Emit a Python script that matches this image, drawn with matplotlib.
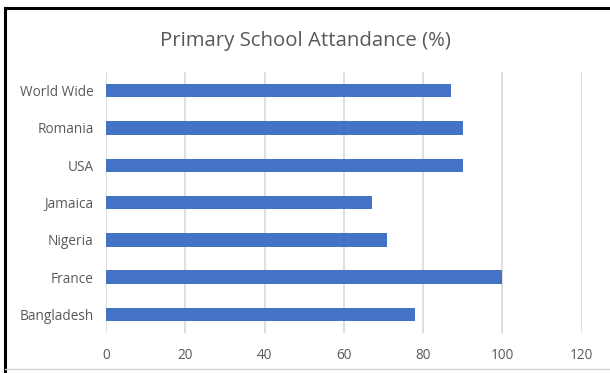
import matplotlib.pyplot as plt
from matplotlib.lines import Line2D

countries = ["World Wide", "Romania", "USA", "Jamaica", "Nigeria", "France", "Bangladesh"]
attendance = [87, 90, 90, 67, 71, 100, 78]
xticks = [0, 20, 40, 60, 80, 100, 120]

plt.rcParams['font.family'] = ['Open Sans', 'DejaVu Sans']

fig = plt.figure(figsize=(6.1, 3.73), dpi=100)
ax = fig.add_axes([0.1738, 0.1072, 0.7796, 0.6998])

pos = list(range(len(countries)))[::-1]
ax.barh(pos, attendance, height=0.36, color='#4472C4', zorder=3)

ax.set_xlim(0, 120)
ax.set_ylim(-0.5, len(countries) - 0.5)
ax.set_xticks(xticks)
ax.set_yticks(pos)
ax.set_yticklabels(countries)
ax.tick_params(axis='both', length=0, colors='#595959', labelsize=9.8)
ax.tick_params(axis='x', pad=11)
ax.tick_params(axis='y', pad=9)
ax.grid(axis='x', color='#d9d9d9', linewidth=1.2, zorder=0)
for s in ax.spines.values():
    s.set_visible(False)

fig.text(0.5, 0.89, "Primary School Attandance (%)", ha='center', va='center',
         fontsize=14.7, color='#595959')

# frame around the chart (screenshot crop)
fig.add_artist(Line2D([5/610, 5/610], [0, 1 - 8/373], color='black', lw=2.2, transform=fig.transFigure))
fig.add_artist(Line2D([5/610, 1], [1 - 8/373, 1 - 8/373], color='black', lw=2.2, transform=fig.transFigure))
fig.add_artist(Line2D([5/610, 1], [4/373, 4/373], color='#d0d0d0', lw=1, transform=fig.transFigure))

fig.savefig('out.png', dpi=100)
